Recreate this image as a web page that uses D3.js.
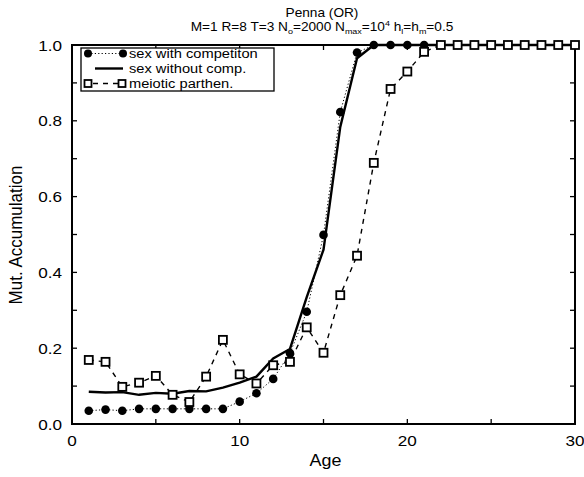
<!DOCTYPE html>
<html><head><meta charset="utf-8">
<script src="https://cdn.jsdelivr.net/npm/d3@7"></script>
<style>body{margin:0;background:#fff}svg{display:block}text{font-family:"Liberation Sans",Arial,sans-serif;fill:#000}</style>
</head><body><svg id="c" width="584" height="477"></svg>
<script>
const ages = d3.range(1, 31);
const sexComp = [0.035,0.038,0.035,0.040,0.040,0.040,0.040,0.040,0.040,0.059,0.081,0.119,0.187,0.296,0.499,0.823,0.980,1,1,1,1,1,1,1,1,1,1,1,1,1];
const sexNoComp = [0.085,0.083,0.084,0.077,0.082,0.080,0.087,0.086,0.096,0.109,0.125,0.173,0.198,0.335,0.460,0.784,0.965,1,1,1,1,1,1,1,1,1,1,1,1,1];
const meiotic = [0.169,0.164,0.098,0.109,0.127,0.077,0.058,0.125,0.222,0.131,0.107,0.155,0.164,0.255,0.188,0.340,0.444,0.689,0.884,0.930,0.982,1,1,1,1,1,1,1,1,1];
const xTicks = [0,10,20,30];
const yTicks = [0,0.2,0.4,0.6,0.8,1.0];
const seriesNames = ["sex with competiton","sex without comp.","meiotic parthen."];

const SX = 1.12; // horizontal stretch of the scanned lettering
const svg = d3.select("#c");
const L=72,R=575,T=45,B=424;
const x = d3.scaleLinear().domain([0,30]).range([L,R]);
const y = d3.scaleLinear().domain([0,1]).range([B,T]);

function txt(px,py,str,size,anchor){
  return svg.append("text").attr("transform",`translate(${px},${py}) scale(${SX},1)`)
    .attr("text-anchor",anchor||"start").attr("font-size",size).text(str);
}

// frame
svg.append("rect").attr("x",L).attr("y",T).attr("width",R-L).attr("height",B-T)
  .attr("fill","none").attr("stroke","#000").attr("stroke-width",2);

// ticks
const g = svg.append("g").attr("stroke","#000").attr("stroke-width",1.3);
d3.range(0,31,5).forEach(v=>{
  g.append("line").attr("x1",x(v)).attr("x2",x(v)).attr("y1",B).attr("y2",B-5);
  g.append("line").attr("x1",x(v)).attr("x2",x(v)).attr("y1",T).attr("y2",T+5);
});
d3.range(0,11).forEach(i=>{
  const v=i/10;
  g.append("line").attr("x1",L).attr("x2",L+5).attr("y1",y(v)).attr("y2",y(v));
  g.append("line").attr("x1",R).attr("x2",R-5).attr("y1",y(v)).attr("y2",y(v));
});

// tick labels
xTicks.forEach(d=>txt(x(d),B+22,String(d),15.3,"middle"));
yTicks.forEach(d=>txt(L-10,y(d)+5.5,d.toFixed(1),15.3,"end"));

txt((L+R)/2+2,466,"Age",16,"middle");
svg.append("text").attr("transform","translate(21.5,235) rotate(-90) scale(1,"+SX+")")
  .attr("text-anchor","middle").attr("font-size",17).text("Mut. Accumulation");

// title
txt(322,16.5,"Penna (OR)",12.2,"middle");
const t2 = svg.append("text").attr("transform",`translate(322,30.5) scale(${SX},1)`)
  .attr("text-anchor","middle").attr("font-size",12.2);
const parts = [["M=1 R=8 T=3 N",0],["o",1],["=2000 N",0],["max",1],["=10",0],["4",2],[" h",0],["l",1],["=h",0],["m",1],["=0.5",0]];
parts.forEach(([s,k],i)=>{
  const ts=t2.append("tspan").text(s);
  const prev = i>0?parts[i-1][1]:0;
  if(k===1) ts.attr("font-size",8).attr("dy",3);
  else if(k===2) ts.attr("font-size",8).attr("dy",-5);
  else if(prev===1) ts.attr("dy",-3);
  else if(prev===2) ts.attr("dy",5);
});

const line = d3.line().x((d,i)=>x(ages[i])).y(d=>y(d));

svg.append("path").attr("d",line(sexComp)).attr("fill","none").attr("stroke","#000")
  .attr("stroke-width",1).attr("stroke-dasharray","1.2,2.2");
svg.append("path").attr("d",line(meiotic)).attr("fill","none").attr("stroke","#000")
  .attr("stroke-width",1.4).attr("stroke-dasharray","5,5");
svg.append("path").attr("d",line(sexNoComp)).attr("fill","none").attr("stroke","#000").attr("stroke-width",2.4);

svg.selectAll(".cir").data(sexComp).join("circle").attr("cx",(d,i)=>x(ages[i])).attr("cy",d=>y(d))
  .attr("r",4.3).attr("fill","#000");
svg.selectAll(".sq").data(meiotic).join("rect").attr("x",(d,i)=>x(ages[i])-4).attr("y",d=>y(d)-4)
  .attr("width",8).attr("height",8).attr("fill","#fff").attr("stroke","#000").attr("stroke-width",1.8);

// legend
const lg = svg.append("g");
lg.append("rect").attr("x",81).attr("y",48).attr("width",193).attr("height",43)
  .attr("fill","#fff").attr("stroke","#000").attr("stroke-width",1.3);
const ly=[53.5,68.5,83.5];
lg.append("line").attr("x1",88).attr("x2",123).attr("y1",ly[0]).attr("y2",ly[0]).attr("stroke","#000").attr("stroke-width",1).attr("stroke-dasharray","1.2,2.2");
lg.append("circle").attr("cx",88).attr("cy",ly[0]).attr("r",4).attr("fill","#000");
lg.append("circle").attr("cx",123).attr("cy",ly[0]).attr("r",4).attr("fill","#000");
lg.append("line").attr("x1",95).attr("x2",123).attr("y1",ly[1]).attr("y2",ly[1]).attr("stroke","#000").attr("stroke-width",2.4);
lg.append("line").attr("x1",88).attr("x2",122).attr("y1",ly[2]).attr("y2",ly[2]).attr("stroke","#000").attr("stroke-width",1.4).attr("stroke-dasharray","5,5").attr("stroke-dashoffset",-5);
[88,122].forEach(cx=>lg.append("rect").attr("x",cx-3.5).attr("y",ly[2]-3.5).attr("width",7).attr("height",7).attr("fill","#fff").attr("stroke","#000").attr("stroke-width",1.8));
seriesNames.forEach((s,i)=>txt(129,ly[i]+4.5,s,13.1,"start"));
</script></body></html>
